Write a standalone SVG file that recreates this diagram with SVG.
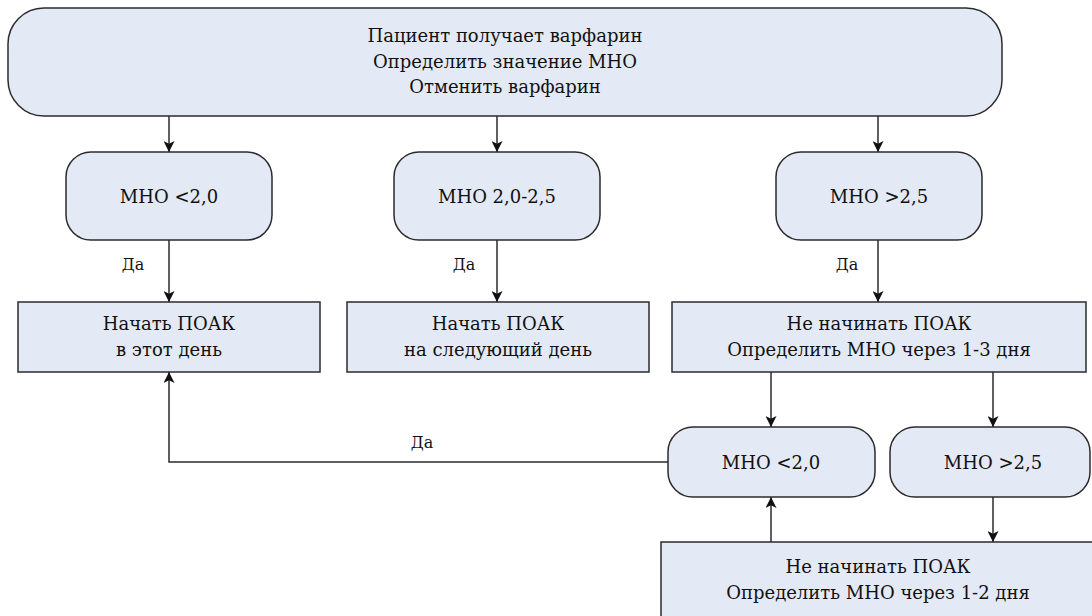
<svg xmlns="http://www.w3.org/2000/svg" width="1092" height="616" viewBox="0 0 1092 616">
  <style>
    .box { fill: #e4eaf5; stroke: #2b2b2b; stroke-width: 1.5; }
    text { font-family: 'DejaVu Serif', 'Liberation Serif', serif; fill: #111111; text-anchor: middle; }
    .t { font-size: 18px; }
    .lbl { font-size: 16px; }
    .edge { fill: none; stroke: #2b2b2b; stroke-width: 1.5; marker-end: url(#arrow); }
  </style>
  <defs>
    <marker id="arrow" viewBox="0 0 10 10" refX="10" refY="5" markerWidth="11" markerHeight="11" markerUnits="userSpaceOnUse" orient="auto">
      <path d="M0,0 L10,5 L0,10 L2.5,5 Z" fill="#111"/>
    </marker>
  </defs>
  <rect width="1092" height="616" fill="#ffffff"/>

  <!-- connectors -->
  <g id="connectors">
    <path class="edge" d="M169,116 V152"/>
    <path class="edge" d="M497,116 V152"/>
    <path class="edge" d="M878,116 V152"/>
    <path class="edge" d="M169,240 V302"/>
    <path class="edge" d="M497,240 V302"/>
    <path class="edge" d="M878,240 V302"/>
    <path class="edge" d="M771,372 V427"/>
    <path class="edge" d="M993,372 V427"/>
    <path class="edge" d="M993,497 V542"/>
    <path class="edge" d="M771,542 V497"/>
    <path class="edge" d="M668,462 H169 V372"/>
    <text class="lbl" x="133" y="270">Да</text>
    <text class="lbl" x="464" y="270">Да</text>
    <text class="lbl" x="847" y="270">Да</text>
    <text class="lbl" x="422" y="448">Да</text>
  </g>

  <!-- start -->
  <g id="start">
    <rect class="box" x="8" y="8" width="994" height="108" rx="36" ry="36"/>
    <text class="t" x="505" y="42">Пациент получает варфарин</text>
    <text class="t" x="505" y="68">Определить значение МНО</text>
    <text class="t" x="505" y="93">Отменить варфарин</text>
  </g>

  <!-- first INR checks -->
  <g id="inr-low">
    <rect class="box" x="66" y="152" width="206" height="88" rx="25" ry="25"/>
    <text class="t" x="169" y="203">МНО &lt;2,0</text>
  </g>
  <g id="inr-mid">
    <rect class="box" x="394" y="152" width="206" height="88" rx="25" ry="25"/>
    <text class="t" x="497" y="203">МНО 2,0-2,5</text>
  </g>
  <g id="inr-high">
    <rect class="box" x="776" y="152" width="206" height="88" rx="25" ry="25"/>
    <text class="t" x="879" y="203">МНО &gt;2,5</text>
  </g>

  <!-- actions -->
  <g id="start-today">
    <rect class="box" x="18" y="302" width="302" height="70"/>
    <text class="t" x="169" y="330">Начать ПОАК</text>
    <text class="t" x="169" y="356">в этот день</text>
  </g>
  <g id="start-next-day">
    <rect class="box" x="347" y="302" width="302" height="70"/>
    <text class="t" x="498" y="330">Начать ПОАК</text>
    <text class="t" x="498" y="356">на следующий день</text>
  </g>
  <g id="wait-1-3">
    <rect class="box" x="672" y="302" width="414" height="70"/>
    <text class="t" x="879" y="330">Не начинать ПОАК</text>
    <text class="t" x="879" y="356">Определить МНО через 1-3 дня</text>
  </g>

  <!-- repeat INR checks -->
  <g id="recheck-low">
    <rect class="box" x="668" y="427" width="207" height="70" rx="25" ry="25"/>
    <text class="t" x="771" y="469">МНО &lt;2,0</text>
  </g>
  <g id="recheck-high">
    <rect class="box" x="890" y="427" width="200" height="70" rx="25" ry="25"/>
    <text class="t" x="993" y="469">МНО &gt;2,5</text>
  </g>
  <g id="wait-1-2">
    <rect class="box" x="661" y="542" width="436" height="84"/>
    <text class="t" x="878" y="573">Не начинать ПОАК</text>
    <text class="t" x="878" y="599">Определить МНО через 1-2 дня</text>
  </g>
</svg>
